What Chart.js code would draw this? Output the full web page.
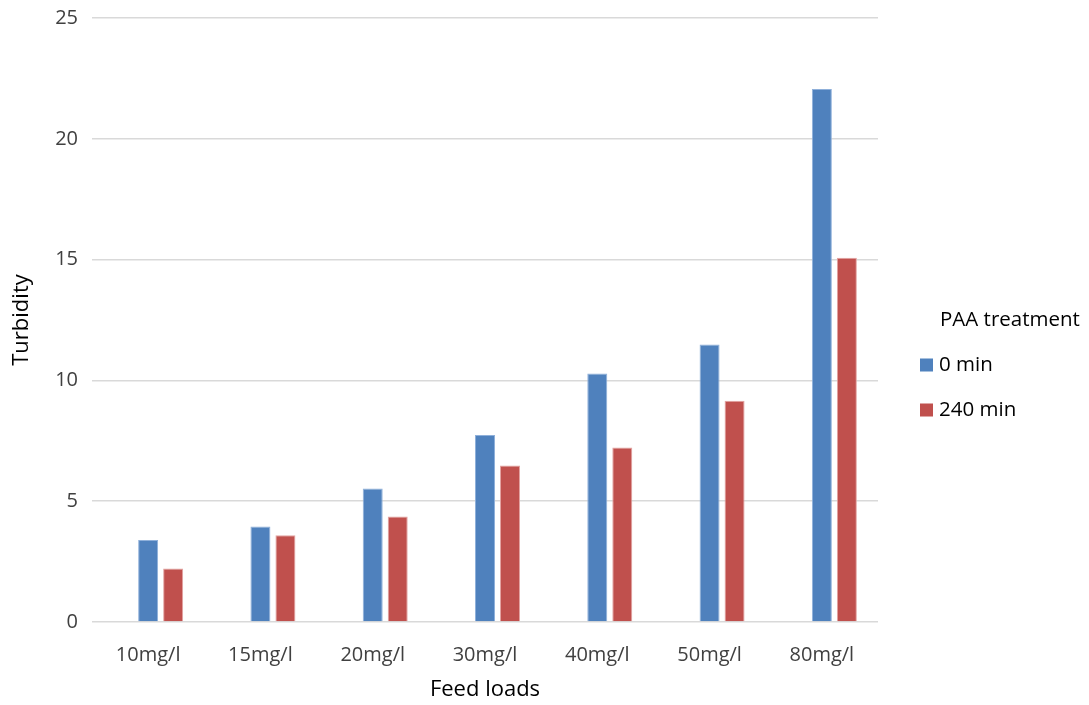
<!DOCTYPE html>
<html>
<head>
<meta charset="utf-8">
<script src="https://cdn.jsdelivr.net/npm/chart.js@4"></script>
<style>
  html, body { margin: 0; padding: 0; background: #fff; }
  #wrap { width: 1089px; height: 705px; position: relative; }
</style>
</head>
<body>
<div id="wrap"><canvas id="c"></canvas></div>
<script>
const categories = ['10mg/l', '15mg/l', '20mg/l', '30mg/l', '40mg/l', '50mg/l', '80mg/l'];
// The source chart reserves an empty first series slot in every group
const seriesBlank = [null, null, null, null, null, null, null];
const series0min = [3.39, 3.95, 5.53, 7.74, 10.29, 11.49, 22.06];
const series240min = [2.21, 3.59, 4.37, 6.48, 7.22, 9.16, 15.08];
const seriesNames = ['0 min', '240 min'];
const legendTitle = 'PAA treatment';
const yTicks = [0, 5, 10, 15, 20, 25];

const FONT = "'Open Sans', sans-serif";

const legendPlugin = {
  id: 'customLegend',
  afterDraw(chart) {
    const ctx = chart.ctx;
    ctx.save();
    ctx.font = "20.5px " + FONT;
    ctx.textBaseline = 'middle';
    ctx.textAlign = 'left';
    ctx.fillStyle = '#000';
    ctx.fillText(legendTitle, 940, 320);
    const items = chart.data.datasets.filter(d => d.label);
    items.forEach((d, i) => {
      const cy = 365 + i * 45;
      ctx.fillStyle = d.backgroundColor;
      ctx.fillRect(920, cy - 6.5, 13, 13);
      ctx.fillStyle = '#000';
      ctx.fillText(d.label, 939, cy);
    });
    ctx.restore();
  }
};

new Chart(document.getElementById('c'), {
  type: 'bar',
  data: {
    labels: categories,
    datasets: [
      { label: '', data: seriesBlank, backgroundColor: 'rgba(0,0,0,0)',
        categoryPercentage: 0.668, barPercentage: 0.8 },
      { label: seriesNames[0], data: series0min, backgroundColor: '#4F81BD', borderColor: '#8FB0DA', borderWidth: 1,
        categoryPercentage: 0.668, barPercentage: 0.8 },
      { label: seriesNames[1], data: series240min, backgroundColor: '#C0504D', borderColor: '#E3A3A1', borderWidth: 1,
        categoryPercentage: 0.668, barPercentage: 0.8 }
    ]
  },
  plugins: [legendPlugin],
  options: {
    responsive: true,
    maintainAspectRatio: false,
    animation: false,
    layout: { padding: { top: 18, right: 211, bottom: 0, left: 0 } },
    plugins: {
      tooltip: { enabled: false },
      legend: { display: false }
    },
    scales: {
      x: {
        grid: { display: false },
        border: { display: false },
        ticks: { color: '#404040', font: { family: FONT, size: 20 }, padding: 13 },
        title: { display: true, text: 'Feed loads', color: '#000', font: { family: FONT, size: 22 }, padding: { top: 0, bottom: 2 } },
        afterFit: s => { s.height = 83; s.paddingLeft = 0; s.paddingRight = 0; }
      },
      y: {
        min: 0, max: 25,
        afterBuildTicks: s => { s.ticks = yTicks.map(v => ({ value: v })); },
        grid: { color: '#D9D9D9', lineWidth: 1.5, drawTicks: false },
        border: { display: false },
        ticks: { color: '#404040', font: { family: FONT, size: 20 }, padding: 14 },
        title: { display: true, text: 'Turbidity', color: '#000', font: { family: FONT, size: 22 }, padding: { top: 9, bottom: 0 } },
        afterFit: s => { s.width = 92; s.paddingTop = 0; s.paddingBottom = 0; }
      }
    }
  }
});
</script>
</body>
</html>
